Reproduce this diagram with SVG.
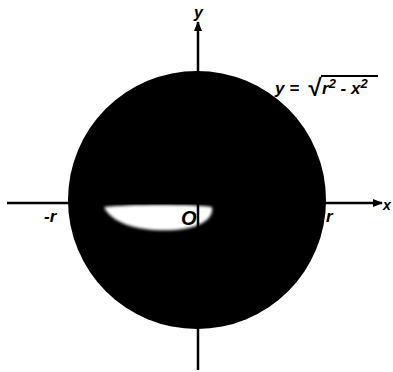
<svg xmlns="http://www.w3.org/2000/svg" width="393" height="372" viewBox="0 0 393 372">
<style>
.lbl{font-family:"Liberation Sans",Arial,sans-serif;font-weight:bold;font-style:italic;fill:#000}
.ax{stroke:#000;stroke-width:2.5;fill:none}
</style>
<defs>
<marker id="ah" viewBox="0 0 10 10" refX="9" refY="5" markerWidth="4" markerHeight="4" orient="auto" markerUnits="strokeWidth">
<path d="M0,1 L10,5 L0,9 Z" fill="#000"/>
</marker>
<filter id="blur" x="-20%" y="-50%" width="140%" height="200%"><feGaussianBlur stdDeviation="1.5"/></filter>
</defs>
<g id="disk">
<circle cx="197" cy="200" r="129" fill="#000"/>
<path d="M104,207 C130,204 195,204 212,207 C214,220 198,228 175,230 C140,232 112,224 104,207 Z" fill="#fff" filter="url(#blur)"/>
</g>
<g id="connectors">
<line class="ax" x1="7" y1="203" x2="382" y2="203" marker-end="url(#ah)"/>
<line class="ax" x1="198" y1="370" x2="198" y2="22" marker-end="url(#ah)"/>
</g>
<g id="labels">
<text class="lbl" x="383" y="210" font-size="14">x</text>
<text class="lbl" x="194" y="18" font-size="16">y</text>
<text class="lbl" x="44" y="222" font-size="17">-r</text>
<text class="lbl" x="326" y="222" font-size="17">r</text>
<text class="lbl" x="181" y="225" font-size="20">O</text>
<g id="equation">
<text class="lbl" x="275" y="94" font-size="17">y = </text>
<text class="lbl" x="307" y="96" font-size="24">√</text>
<line x1="321" y1="76" x2="378" y2="76" stroke="#000" stroke-width="2"/>
<text class="lbl" x="322" y="94" font-size="17">r<tspan font-size="13" dy="-6">2</tspan><tspan dy="6"> - x</tspan><tspan font-size="13" dy="-6">2</tspan></text>
</g>
</g>
</svg>
